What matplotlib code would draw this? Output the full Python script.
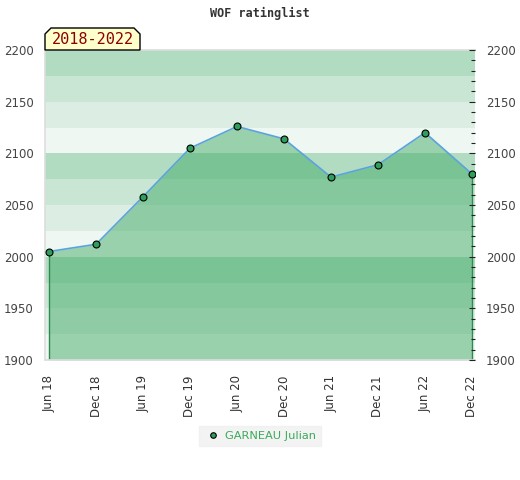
import numpy as np
import matplotlib
matplotlib.use("Agg")
import matplotlib.pyplot as plt
from matplotlib.patches import Polygon
from matplotlib.ticker import MultipleLocator

# ── Data ─────────────────────────────────────────────────────────────────
periods = ["Jun 18", "Dec 18", "Jun 19", "Dec 19", "Jun 20",
           "Dec 20", "Jun 21", "Dec 21", "Jun 22", "Dec 22"]
ratings = [2005, 2012, 2058, 2105, 2126, 2114, 2077, 2089, 2120, 2080]
player = "GARNEAU Julian"
period_label = "2018-2022"
title = "WOF ratinglist"

Y_MIN, Y_MAX = 1900, 2200
BAND_COLORS = ["#b2dcc2", "#c9e6d4", "#dceee3", "#eff7f2"]

plt.rcParams.update({
    "font.family": ["DejaVu Sans"],
    "font.size": 8,
})

fig = plt.figure(figsize=(5.2, 4.8), dpi=100)
ax = fig.add_axes([45 / 520, 1 - 360 / 480, 430 / 520, 310 / 480])
ax.set_axisbelow(False)

x = np.arange(len(periods))

# horizontal bands, 25 points each, repeating every 100
for i, lo in enumerate(range(Y_MIN, Y_MAX, 25)):
    k = 3 - (i % 4)
    ax.axhspan(lo, lo + 25, color=BAND_COLORS[k], lw=0, zorder=0)

ax.fill_between(x, ratings, Y_MIN, color="#44ac68", alpha=0.5, lw=0, zorder=1)
ax.vlines([x[0], x[-1]], Y_MIN, [ratings[0], ratings[-1]],
          color="#2e8b4f", lw=1, zorder=2)
ax.plot(x, ratings, color="#5ba3dc", lw=1.2, zorder=3)
ax.plot(x, ratings, "o", color="#2e9e5a", mec="black", mew=0.8,
        ms=5, zorder=4, label=player)

ax.set_xlim(-4 / 47, 9 + 3 / 47)
ax.set_ylim(Y_MIN, Y_MAX)
ax.set_xticks(x)
ax.set_xticklabels(periods, rotation=90, color="#333333", fontsize=8.5)
ax.tick_params(axis="x", length=0, pad=11)

ax.yaxis.set_major_locator(MultipleLocator(50))
ax.yaxis.set_minor_locator(MultipleLocator(10))
ax.tick_params(axis="y", which="both", left=False, right=True,
               labelleft=True, labelright=True, direction="in",
               colors="#222222", labelsize=8.5)
ax.tick_params(axis="y", which="major", length=4, width=0.8, pad=8)
ax.tick_params(axis="y", which="minor", length=3, width=0.8)
for lab in ax.get_yticklabels():
    lab.set_color("#444444")

for side in ("top", "left", "bottom"):
    ax.spines[side].set_color("#dddddd")
    ax.spines[side].set_linewidth(1.2)
ax.spines["right"].set_visible(False)

fig.text(0.5, 1 - 13 / 480, title, ha="center", va="center",
         family="DejaVu Sans Mono", fontsize=8.5, fontweight="bold",
         color="#333333")

# period tag with clipped top corners
x0, x1 = 45 / 520, 140 / 520
y0, y1 = 1 - 50 / 480, 1 - 28 / 480
c = 6 / 520
cy = 6 / 480
tag = Polygon([(x0, y0), (x0, y1 - cy), (x0 + c, y1), (x1 - c, y1),
               (x1, y1 - cy), (x1, y0)], closed=True,
              transform=fig.transFigure, facecolor="#ffffcc",
              edgecolor="black", lw=1, zorder=5)
fig.patches.append(tag)
fig.text((x0 + x1) / 2, (y0 + y1) / 2 - 0.002, period_label, ha="center",
         va="center", family="DejaVu Sans Mono", fontsize=11,
         color="#8b0000", zorder=6)

leg = fig.legend(loc="center", bbox_to_anchor=(260 / 520, 1 - 436 / 480),
                 frameon=True, fancybox=False, fontsize=8.2,
                 handletextpad=0.2, handlelength=1.6, borderpad=0.45,
                 borderaxespad=0, markerscale=0.8)
leg.get_frame().set_facecolor("#f0f0f0")
leg.get_frame().set_edgecolor("#f0f0f0")
for t in leg.get_texts():
    t.set_color("#3aaa5c")

fig.savefig("out.png", dpi=100)
